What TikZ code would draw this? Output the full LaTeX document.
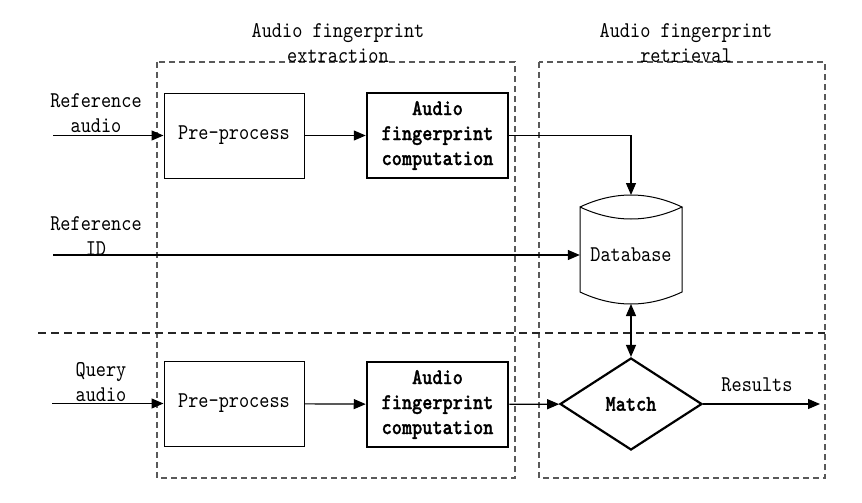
\documentclass[tikz,border=0pt]{standalone}
\usepackage{fontspec}
\newfontfamily\diagfont{lmmono10-regular.otf}[FakeStretch=0.86,BoldFont=lmmonolt10-bold.otf,BoldFeatures={FakeBold=1.2}]
\usetikzlibrary{arrows.meta,shapes,positioning}

\begin{document}
\begin{tikzpicture}[x=1pt,y=-1pt,
        every node/.style={font=\diagfont\fontsize{22.5}{25}\selectfont},
        procbox/.style={draw,line width=1pt,minimum width=140pt,minimum height=85pt,inner sep=0pt},
        calcbox/.style={draw,line width=2.5pt,minimum width=141pt,minimum height=85pt,inner sep=0pt,align=center,font=\diagfont\fontsize{22.5}{25}\selectfont\bfseries},
        region/.style={draw=black!65,line width=1.3pt,dash pattern=on 6pt off 4pt},
        split/.style={draw=black!85,line width=1.3pt,dash pattern=on 8pt off 5pt},
        arr/.style={line width=1.2pt,-{Triangle[length=12pt,width=10pt]}},
        dbl/.style={line width=1.2pt,{Triangle[length=12pt,width=10pt]}-{Triangle[length=12pt,width=10pt]}},
        tag/.style={align=center,inner sep=0pt}]
        \useasboundingbox (0,0) rectangle (862,503);
        \draw[region] (157,62) rectangle (515,478);
        \draw[region] (539,62) rectangle (825,478);
        \draw[split] (38,333) -- (825,333);
        \node[tag] (ttlext) at (338,43) {Audio fingerprint\\extraction};
        \node[tag] (ttlret) at (686,43) {Audio fingerprint\\retrieval};
        \node[procbox] (pre1) at (234,135.5) {Pre-process};
        \node[calcbox] (afc1) at (437.5,135.5) {Audio\\fingerprint\\computation};
        \node[procbox] (pre2) at (234,403.5) {Pre-process};
        \node[calcbox] (afc2) at (437.5,404.5) {Audio\\fingerprint\\computation};
        \node[minimum width=102pt,inner sep=0pt] (db) at (631,255) {Database};
        \coordinate (dbtop) at (631,195);
        \coordinate (dbbot) at (631,304);
        \draw[line width=1pt] (580,207) .. controls (614,191) and (648,191) .. (682,207)
                .. controls (648,223) and (614,223) .. (580,207) -- (580,292)
                .. controls (614,308) and (648,308) .. (682,292) -- (682,207);
        \node[draw,diamond,line width=2.2pt,minimum width=142pt,minimum height=92pt,aspect=1.54,inner sep=0pt,font=\diagfont\fontsize{22.5}{25}\selectfont\bfseries] (match) at (631,404) {Match};
        \node[tag] (refaud) at (96,113.5) {Reference\\audio};
        \node[tag] (refid) at (96,236) {Reference\\ID};
        \node[tag] (qaud) at (101,382) {Query\\audio};
        \node[tag] (res) at (757,385) {Results};
        \coordinate (refin) at (53,135.5);
        \coordinate (idin) at (53,255);
        \coordinate (qin) at (52,403.5);
        \coordinate (resout) at (820,404);
        \draw[arr] (refin) -- (pre1);
        \draw[arr] (pre1) -- (afc1);
        \draw[arr] (afc1.east) -| (dbtop);
        \draw[arr] (idin) -- (db.west);
        \draw[arr] (qin) -- (pre2);
        \draw[arr] (pre2) -- (afc2);
        \draw[arr] (afc2) -- (match);
        \draw[dbl] (dbbot) -- (match.north);
        \draw[arr] (match) -- (resout);
\end{tikzpicture}
\end{document}
